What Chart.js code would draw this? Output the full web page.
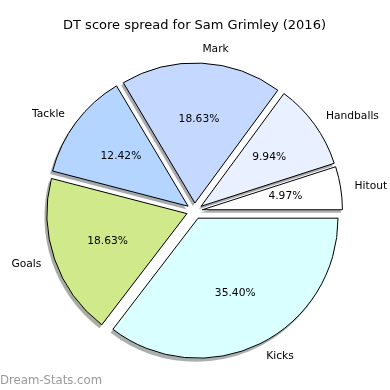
<!DOCTYPE html>
<html>
<head>
<meta charset="utf-8">
<title>DT score spread</title>
<script src="https://cdn.jsdelivr.net/npm/chart.js@4.4.1/dist/chart.umd.min.js"></script>
<style>
  html, body { margin: 0; padding: 0; background: #fff; }
  #wrap { width: 390px; height: 390px; }
</style>
</head>
<body>
<div id="wrap"><canvas id="dtChart" width="390" height="390"></canvas></div>
<script>
// slices in matplotlib order (counter-clockwise from 3 o'clock)
const categories = ['Hitout', 'Handballs', 'Mark', 'Tackle', 'Goals', 'Kicks'];
const dtPoints = [8, 16, 30, 20, 30, 57];
const sliceColors = ['#ffffff', '#e9f0ff', '#c5d8ff', '#b3d5ff', '#cfe98b', '#d9ffff'];

const chartTitle = 'DT score spread for Sam Grimley (2016)';
const watermark = 'Dream-Stats.com';

const FONT = '"DejaVu Sans", sans-serif';
const EXPLODE = 8;     // px each wedge is pushed out
const PIE_RADIUS = 140;

// chart.js goes clockwise, so reverse to keep the same layout
const labels = categories.slice().reverse();
const values = dtPoints.slice().reverse();
const colors = sliceColors.slice().reverse();
const total = values.reduce((a, b) => a + b, 0);

// move each arc outwards along its middle angle (like explode in matplotlib)
const explodePlugin = {
  id: 'explode',
  afterDatasetUpdate(chart, args) {
    args.meta.data.forEach(function (arc) {
      const mid = (arc.startAngle + arc.endAngle) / 2;
      arc.x += Math.cos(mid) * EXPLODE;
      arc.y += Math.sin(mid) * EXPLODE;
    });
  }
};

function shadeOf(hex) {
  const r = parseInt(hex.substr(1, 2), 16) * 0.3;
  const g = parseInt(hex.substr(3, 2), 16) * 0.3;
  const b = parseInt(hex.substr(5, 2), 16) * 0.3;
  return 'rgba(' + r + ',' + g + ',' + b + ',0.45)';
}

const shadowPlugin = {
  id: 'shadow',
  beforeDatasetDraw(chart, args) {
    const ctx = chart.ctx;
    ctx.save();
    ctx.translate(-2, 3);
    args.meta.data.forEach(function (arc, i) {
      ctx.beginPath();
      ctx.moveTo(arc.x, arc.y);
      ctx.arc(arc.x, arc.y, arc.outerRadius + 0.5, arc.startAngle, arc.endAngle);
      ctx.closePath();
      ctx.fillStyle = shadeOf(colors[i]);
      ctx.fill();
    });
    ctx.restore();
  }
};

const textPlugin = {
  id: 'pieText',
  afterDatasetsDraw(chart) {
    const ctx = chart.ctx;
    const arcs = chart.getDatasetMeta(0).data;
    const cx = (chart.chartArea.left + chart.chartArea.right) / 2;
    ctx.save();
    ctx.fillStyle = '#000';
    ctx.textBaseline = 'middle';
    ctx.font = '10.7px ' + FONT;
    arcs.forEach(function (arc, i) {
      const mid = (arc.startAngle + arc.endAngle) / 2;
      const r = arc.outerRadius;
      // category name at 1.1 r
      const lx = arc.x + Math.cos(mid) * r * 1.1;
      const ly = arc.y + Math.sin(mid) * r * 1.1;
      ctx.textAlign = lx > cx ? 'left' : 'right';
      ctx.fillText(labels[i], lx, ly);
      // percentage at 0.6 r
      const px = arc.x + Math.cos(mid) * r * 0.6;
      const py = arc.y + Math.sin(mid) * r * 0.6;
      ctx.textAlign = 'center';
      ctx.fillText((values[i] / total * 100).toFixed(2) + '%', px, py);
    });
    ctx.restore();
  },
  afterDraw(chart) {
    const ctx = chart.ctx;
    ctx.save();
    ctx.font = '11.7px ' + FONT;
    ctx.fillStyle = '#9a9a9a';
    ctx.textAlign = 'left';
    ctx.textBaseline = 'alphabetic';
    ctx.fillText(watermark, 0, 384);
    ctx.restore();
  }
};

const config = {
  type: 'pie',
  data: {
    labels: labels,
    datasets: [{
      data: values,
      backgroundColor: colors,
      borderColor: '#000',
      borderWidth: 1,
      hoverOffset: 0,
      clip: false
    }]
  },
  options: {
    responsive: false,
    animation: false,
    rotation: 90,
    radius: PIE_RADIUS,
    layout: { padding: { left: 0, right: 1, top: 0, bottom: 38 } },
    plugins: {
      legend: { display: false },
      tooltip: { enabled: false },
      title: {
        display: true,
        text: chartTitle,
        color: '#000',
        font: { family: FONT, size: 13, weight: 'normal', lineHeight: 1.2 },
        padding: { top: 18, bottom: 36.4 }
      }
    }
  },
  plugins: [explodePlugin, shadowPlugin, textPlugin]
};

const dtChart = new Chart(document.getElementById('dtChart'), config);
</script>
</body>
</html>
